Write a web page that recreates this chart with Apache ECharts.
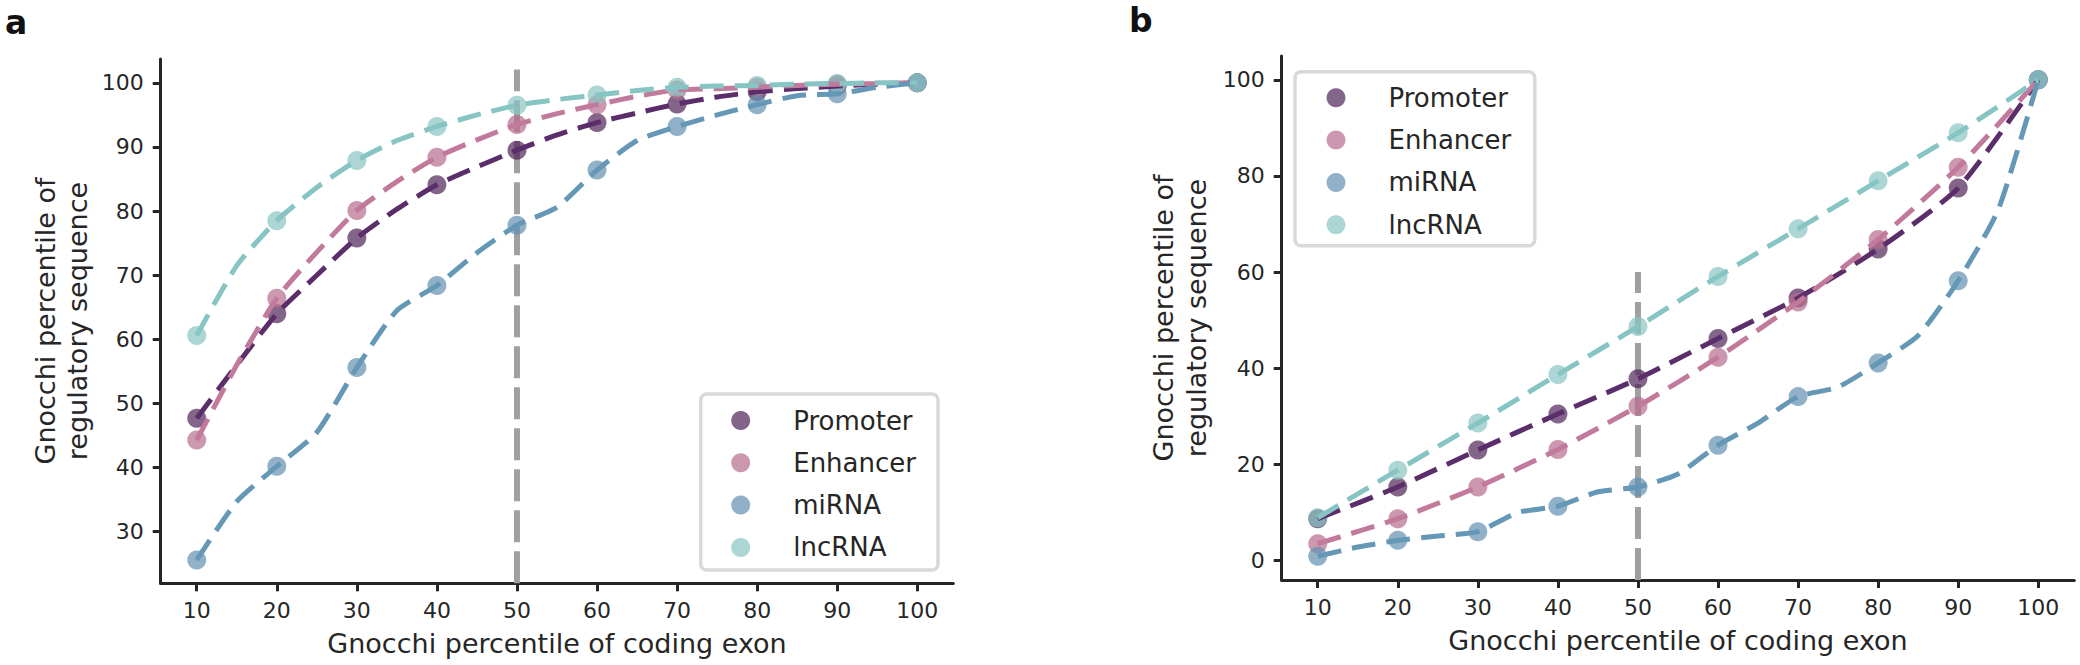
<!DOCTYPE html>
<html><head><meta charset="utf-8">
<script src="https://cdn.jsdelivr.net/npm/echarts@6/dist/echarts.min.js"></script>
<style>html,body{margin:0;padding:0;background:#fff}#c{width:2080px;height:665px}</style>
</head><body><div id="c"></div>
<script>
// ---------- data ----------
const categories = ['Promoter', 'Enhancer', 'miRNA', 'lncRNA'];
const xTicks = [10, 20, 30, 40, 50, 60, 70, 80, 90, 100];
const xLine = [10, 15, 20, 25, 30, 35, 40, 45, 50, 55, 60, 65, 70, 75, 80, 85, 90, 95, 100];
const yTicksA = [30, 40, 50, 60, 70, 80, 90, 100];
const yTicksB = [0, 20, 40, 60, 80, 100];

// panel a: marker values at xTicks
const promA = [47.7, 64.0, 75.8, 84.1, 89.5, 93.8, 96.7, 98.6, 99.5, 100];
const enhA  = [44.3, 66.4, 80.1, 88.4, 93.5, 96.6, 98.9, 99.3, 99.8, 100];
const mirA  = [25.6, 40.2, 55.6, 68.4, 77.8, 86.4, 93.2, 96.6, 98.3, 100];
const lncA  = [60.6, 78.5, 87.9, 93.2, 96.5, 98.1, 99.3, 99.6, 99.9, 100];
// panel a: dashed line values at xLine
const promA_line = [47.7, 56.0, 64.0, 70.0, 75.8, 80.3, 84.1, 86.9, 89.5, 91.9, 93.8, 95.3, 96.7, 97.8, 98.6, 99.1, 99.5, 99.8, 100];
const enhA_line  = [44.3, 56.0, 66.4, 73.6, 80.1, 84.6, 88.4, 91.1, 93.5, 95.2, 96.6, 97.9, 98.9, 99.1, 99.3, 99.6, 99.8, 99.9, 100];
const mirA_line  = [25.6, 34.7, 40.2, 45.5, 55.6, 64.5, 68.4, 73.5, 77.8, 80.6, 86.4, 91.0, 93.2, 95.0, 96.6, 98.0, 98.3, 99.3, 100];
const lncA_line  = [60.6, 71.5, 78.5, 83.7, 87.9, 91.0, 93.2, 95.0, 96.5, 97.4, 98.1, 98.8, 99.3, 99.5, 99.6, 99.8, 99.9, 100, 100];

// panel b: marker values at xTicks
const promB = [8.7, 15.3, 23.0, 30.5, 37.8, 46.2, 54.6, 64.8, 77.5, 100];
const enhB  = [3.5, 8.7, 15.3, 23.1, 32.1, 42.3, 53.8, 66.8, 81.8, 100];
const mirB  = [0.9, 4.2, 6.0, 11.3, 15.3, 24.0, 34.1, 41.1, 58.2, 100];
const lncB  = [8.9, 18.8, 28.6, 38.7, 48.7, 59.1, 69.0, 79.0, 89.0, 100];
// panel b: miRNA dashed line at xLine
const mirB_line = [0.9, 2.8, 4.2, 5.1, 6.0, 10.0, 11.3, 14.3, 15.3, 18.0, 24.0, 28.6, 34.1, 36.1, 41.1, 46.8, 58.2, 73.0, 100];

// vertical reference line at x = 50
const vX = 50;
const vlineA = [21.96, 102.1];
const vlineB = [-4.05, 60];

// ---------- styles ----------
const FONT = 'DejaVu Sans';
const TXT = '#262626';
const lineColors = ['#5b2e6b', '#c27a9c', '#6598b6', '#86c5c3'];
const markerBase = ['#4e2358', '#b66c8d', '#6390b2', '#88c4c2'];
const legendColors = ['#83658a', '#cc98af', '#92b1c9', '#acd6d4'];

function pairs(xs, ys) { return xs.map((x, i) => [x, ys[i]]); }

function axisX(idx, name) {
  return {
    type: 'value', gridIndex: idx, min: 5.5, max: 104.5,
    name: name, nameLocation: 'middle', nameGap: 47,
    nameTextStyle: { fontSize: 27, color: TXT, fontFamily: FONT },
    axisLine: { show: true, onZero: false, lineStyle: { color: TXT, width: 3 } },
    axisTick: { show: true, length: 8, lineStyle: { color: TXT, width: 3 }, customValues: xTicks },
    axisLabel: { fontSize: 22, color: TXT, fontFamily: FONT, margin: 16, customValues: xTicks },
    splitLine: { show: false }
  };
}
function axisY(idx, min, max, ticks) {
  return {
    type: 'value', gridIndex: idx, min: min, max: max,
    axisLine: { show: true, onZero: false, lineStyle: { color: TXT, width: 3 } },
    axisTick: { show: true, length: 8, lineStyle: { color: TXT, width: 3 }, customValues: ticks },
    axisLabel: { fontSize: 22, color: TXT, fontFamily: FONT, margin: 17, customValues: ticks },
    splitLine: { show: false }
  };
}

const series = [];
function addPanel(idx, markers, lines, vline) {
  series.push({
    name: 'ref' + idx, type: 'line', xAxisIndex: idx, yAxisIndex: idx,
    data: [[vX, vline[0]], [vX, vline[1]]], showSymbol: false, silent: true, clip: true,
    lineStyle: { color: '#a0a0a0', width: 6, type: [32, 9] }, z: 1
  });
  markers.forEach((m, k) => {
    series.push({
      name: categories[k], type: 'scatter', xAxisIndex: idx, yAxisIndex: idx,
      data: pairs(xTicks, m), symbol: 'circle', symbolSize: 19, silent: true,
      itemStyle: { color: markerBase[k], opacity: 0.7 }, z: 2
    });
  });
  lines.forEach((l, k) => {
    series.push({
      name: categories[k] + ' line ' + idx, type: 'line', xAxisIndex: idx, yAxisIndex: idx,
      data: pairs(l.x, l.y), showSymbol: false, silent: true, smooth: 0.2,
      lineStyle: { color: lineColors[k], width: 5, type: [24, 11], cap: 'butt' }, z: 3
    });
  });
}
addPanel(0, [promA, enhA, mirA, lncA], [
  { x: xLine, y: promA_line }, { x: xLine, y: enhA_line },
  { x: xLine, y: mirA_line }, { x: xLine, y: lncA_line }
], vlineA);
addPanel(1, [promB, enhB, mirB, lncB], [
  { x: xTicks, y: promB }, { x: xTicks, y: enhB },
  { x: xLine, y: mirB_line }, { x: xTicks, y: lncB }
], vlineB);

function legend(left, top) {
  return {
    orient: 'vertical', left: left, top: top, padding: 0,
    icon: 'circle', itemWidth: 19, itemHeight: 19, itemGap: 16.3,
    selectedMode: false,
    data: categories.map((c, k) => ({ name: c, itemStyle: { color: legendColors[k], opacity: 1 } })),
    textStyle: { fontSize: 26, color: TXT, fontFamily: FONT, lineHeight: 25, padding: [0, 0, 0, 38] }
  };
}

function vText(x, y, t) {
  return {
    type: 'text', x: x, y: y, rotation: Math.PI / 2, silent: true,
    style: {
      text: t, font: '27px "DejaVu Sans"', fill: TXT,
      textAlign: 'center', textVerticalAlign: 'middle', align: 'center', verticalAlign: 'middle'
    }
  };
}
function panelLabel(x, y, t) {
  return {
    type: 'text', x: x, y: y, silent: true,
    style: { text: t, font: 'bold 33px "DejaVu Sans"', fill: '#111', textAlign: 'left', textVerticalAlign: 'middle', align: 'left', verticalAlign: 'middle' }
  };
}
function box(x, y, w, h) {
  return {
    type: 'rect', silent: true, z: 1,
    shape: { x: x, y: y, width: w, height: h, r: 6 },
    style: { fill: '#ffffff', stroke: '#d9d9d9', lineWidth: 3.5 }
  };
}

const option = {
  backgroundColor: '#ffffff',
  animation: false,
  textStyle: { fontFamily: FONT },
  grid: [
    { left: 160.7, top: 59, right: 2080 - 953.3, bottom: 665 - 583.3 },
    { left: 1281.7, top: 56, right: 2080 - 2074.3, bottom: 665 - 580 }
  ],
  xAxis: [axisX(0, 'Gnocchi percentile of coding exon'), axisX(1, 'Gnocchi percentile of coding exon')],
  yAxis: [axisY(0, 21.96, 103.72, yTicksA), axisY(1, -4.05, 104.96, yTicksB)],
  legend: [legend(731.2, 407.5), legend(1326.5, 84.8)],
  graphic: [
    box(700.7, 394, 237.3, 176),
    box(1295, 71.7, 239.8, 174),
    vText(45, 321, 'Gnocchi percentile of'),
    vText(77, 321, 'regulatory sequence'),
    vText(1163, 318, 'Gnocchi percentile of'),
    vText(1196, 318, 'regulatory sequence'),
    panelLabel(5, 22, 'a'),
    panelLabel(1129, 20, 'b')
  ],
  series: series
};

const chart = echarts.init(document.getElementById('c'), null, { renderer: 'svg', width: 2080, height: 665 });
chart.setOption(option);
</script>
</body></html>
